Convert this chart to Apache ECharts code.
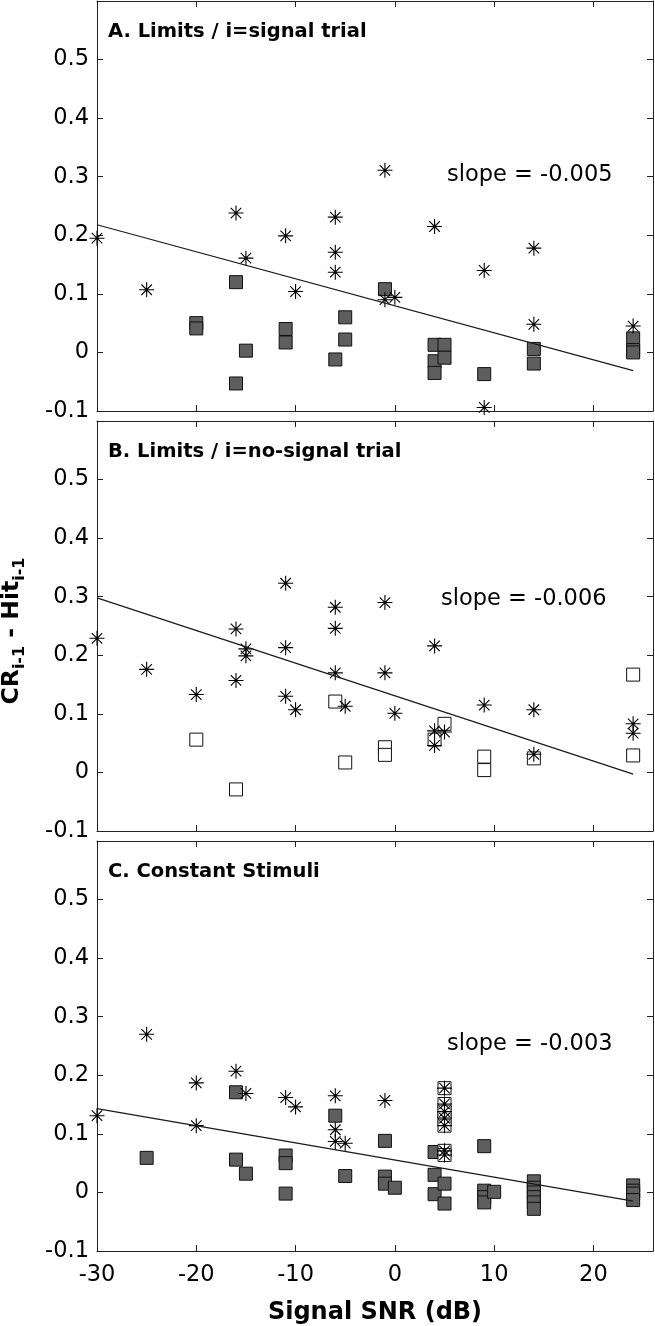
<!DOCTYPE html>
<html><head><meta charset="utf-8">
<script src="https://cdn.jsdelivr.net/npm/echarts@6/dist/echarts.min.js"></script>
<style>html,body{margin:0;padding:0;background:#fff}#c{width:655px;height:1326px}</style>
</head><body><div id="c"></div>
<script>
// ---- axis ranges / tick labels ----
const xTicks = [-30, -20, -10, 0, 10, 20];
const xRange = [-30, 26];
const yTicks = [-0.1, 0, 0.1, 0.2, 0.3, 0.4, 0.5];
const yRange = [-0.1, 0.6];
const xName = 'Signal SNR (dB)';
const panelTitles = ['A. Limits / i=signal trial', 'B. Limits / i=no-signal trial', 'C. Constant Stimuli'];
const slopeLabels = ['slope = -0.005', 'slope = -0.006', 'slope = -0.003'];

// ---- Panel A ----
const aStars = [[-30,0.195],[-25,0.107],[-16,0.238],[-15,0.161],[-11,0.199],[-10,0.104],[-6,0.231],[-6,0.171],[-6,0.137],[-1,0.311],[-1,0.09],[0,0.094],[4,0.215],[9,0.14],[9,-0.094],[14,0.178],[14,0.048],[24,0.045]];
const aSquares = [[-20,0.05],[-20,0.041],[-16,0.12],[-16,-0.053],[-15,0.003],[-11,0.04],[-11,0.017],[-6,-0.012],[-5,0.06],[-5,0.022],[-1,0.108],[4,0.013],[4,-0.015],[4,-0.035],[5,0.013],[5,-0.009],[9,-0.037],[14,0.006],[14,-0.019],[24,0.024],[24,0.004],[24,0.0]];
const aFit = [[-30,0.218],[24,-0.031]];

// ---- Panel B ----
const bStars = [[-30,0.229],[-25,0.176],[-20,0.133],[-16,0.245],[-16,0.157],[-15,0.211],[-15,0.199],[-11,0.323],[-11,0.213],[-11,0.13],[-10,0.107],[-6,0.282],[-6,0.246],[-6,0.17],[-5,0.113],[-1,0.29],[-1,0.17],[0,0.101],[4,0.216],[4,0.071],[4,0.046],[5,0.069],[9,0.115],[14,0.107],[14,0.031],[24,0.083],[24,0.067]];
const bOpen = [[-20,0.056],[-16,-0.029],[-6,0.121],[-5,0.017],[-1,0.043],[-1,0.03],[4,0.056],[5,0.083],[9,0.027],[9,0.004],[14,0.024],[24,0.167],[24,0.029]];
const bFit = [[-30,0.298],[24,-0.003]];

// ---- Panel C ----
const cStars = [[-30,0.131],[-25,0.27],[-20,0.187],[-20,0.114],[-16,0.207],[-15,0.169],[-11,0.162],[-10,0.146],[-6,0.165],[-6,0.107],[-6,0.087],[-5,0.084],[-1,0.157],[5,0.178],[5,0.151],[5,0.138],[5,0.127],[5,0.114],[5,0.071],[5,0.064]];
const cOpen = [[5,0.178],[5,0.151],[5,0.138],[5,0.127],[5,0.114],[5,0.071],[5,0.064]];
const cSquares = [[-25,0.059],[-16,0.171],[-16,0.056],[-15,0.032],[-11,0.063],[-11,0.05],[-11,-0.002],[-6,0.131],[-5,0.028],[-1,0.088],[-1,0.027],[-1,0.015],[0,0.008],[4,0.069],[4,0.03],[4,-0.003],[5,0.015],[5,-0.019],[9,0.079],[9,0.003],[9,-0.008],[9,-0.017],[10,0.001],[14,0.019],[14,0.008],[14,0.0],[14,-0.008],[14,-0.017],[14,-0.028],[24,0.012],[24,0.003],[24,-0.002],[24,-0.013]];
const cFit = [[-30,0.143],[24,-0.015]];

// ---- styling ----
const FONT = 'DejaVu Sans';
const AX = '#222';
const starPath = 'path://M5,0L5,10M0,5L10,5M1.5,1.5L8.5,8.5M1.5,8.5L8.5,1.5';
const gridTops = [1, 421, 841];
const panelH = 410;

const chart = echarts.init(document.getElementById('c'), null, {renderer: 'canvas'});

const grids = [], xAxes = [], yAxes = [], series = [], graphics = [];
const xInterval = xTicks[1] - xTicks[0];
const yInterval = +(yTicks[1] - yTicks[0]).toFixed(6);

gridTops.forEach((top, i) => {
  grids.push({left: 97, right: 2, top: top, height: panelH, show: false});
  const line = {show: true, onZero: false, lineStyle: {color: AX, width: 1}};
  const tick = {show: true, inside: true, length: 6, lineStyle: {color: AX, width: 1}};
  const isBottom = i === gridTops.length - 1;
  xAxes.push({
    gridIndex: i, type: 'value', position: 'bottom', min: xRange[0], max: xRange[1], interval: xInterval,
    axisLine: line, axisTick: tick, splitLine: {show: false},
    axisLabel: {show: isBottom, showMaxLabel: false, fontFamily: FONT, fontSize: 22.5, color: '#000', margin: 13},
    name: isBottom ? xName : '', nameLocation: 'middle', nameGap: 50,
    nameTextStyle: {fontFamily: FONT, fontSize: 24, fontWeight: 'bold', color: '#000'}
  });
  xAxes.push({
    gridIndex: i, type: 'value', position: 'top', min: xRange[0], max: xRange[1], interval: xInterval,
    axisLine: line, axisTick: tick, splitLine: {show: false}, axisLabel: {show: false}
  });
  yAxes.push({
    gridIndex: i, type: 'value', position: 'left', min: yRange[0], max: yRange[1], interval: yInterval,
    axisLine: line, axisTick: tick, splitLine: {show: false},
    axisLabel: {showMaxLabel: false, fontFamily: FONT, fontSize: 22.5, color: '#000', margin: 8}
  });
  yAxes.push({
    gridIndex: i, type: 'value', position: 'right', min: yRange[0], max: yRange[1], interval: yInterval,
    axisLine: line, axisTick: tick, splitLine: {show: false}, axisLabel: {show: false}
  });
});

function filledSq(data, i) {
  return {type: 'scatter', xAxisIndex: 2*i, yAxisIndex: 2*i, data: data, symbol: 'rect', symbolSize: 13,
    itemStyle: {color: '#5e5e5e', borderColor: '#111', borderWidth: 1, opacity: 1}, z: 2};
}
function openSq(data, i) {
  return {type: 'scatter', xAxisIndex: 2*i, yAxisIndex: 2*i, data: data, symbol: 'rect', symbolSize: 13,
    itemStyle: {color: '#fff', borderColor: '#111', borderWidth: 1, opacity: 1}, z: 2};
}
function stars(data, i) {
  return {type: 'scatter', xAxisIndex: 2*i, yAxisIndex: 2*i, data: data, symbol: starPath, symbolSize: 15,
    itemStyle: {color: 'rgba(0,0,0,0)', borderColor: '#000', borderWidth: 1.1, opacity: 1}, z: 3};
}
function fit(data, i) {
  return {type: 'line', xAxisIndex: 2*i, yAxisIndex: 2*i, data: data, showSymbol: false, symbol: 'none',
    lineStyle: {color: '#1a1a1a', width: 1.2}, z: 4};
}

series.push(filledSq(aSquares, 0), stars(aStars, 0), fit(aFit, 0));
series.push(openSq(bOpen, 1), stars(bStars, 1), fit(bFit, 1));
series.push(filledSq(cSquares, 2), openSq(cOpen, 2), stars(cStars, 2), fit(cFit, 2));

const titleY = [32, 452, 872];
const slopeX = [447, 441, 447];
const slopeY = [175, 599, 1044];
panelTitles.forEach((t, i) => {
  graphics.push({type: 'text', x: 108, y: titleY[i], silent: true,
    style: {text: t, font: 'bold 19.5px "DejaVu Sans"', fill: '#000', align: 'left', verticalAlign: 'middle'}});
  graphics.push({type: 'text', x: slopeX[i], y: slopeY[i], silent: true,
    style: {text: slopeLabels[i], font: '22.5px "DejaVu Sans"', fill: '#000', align: 'left', verticalAlign: 'middle'}});
});
graphics.push({type: 'text', x: 13, y: 631, rotation: Math.PI / 2, silent: true,
  style: {
    text: '{m|CR}{s|i-1}{m| - Hit}{s|i-1}', align: 'center', verticalAlign: 'middle', fill: '#000',
    rich: {
      m: {fontFamily: FONT, fontSize: 23.5, fontWeight: 'bold', lineHeight: 27, verticalAlign: 'top'},
      s: {fontFamily: FONT, fontSize: 16, fontWeight: 'bold', lineHeight: 18, verticalAlign: 'top', padding: [12, 0, 0, 0]}
    }
  }});

chart.setOption({
  animation: false,
  backgroundColor: '#fff',
  grid: grids, xAxis: xAxes, yAxis: yAxes, series: series, graphic: graphics
});
</script></body></html>
